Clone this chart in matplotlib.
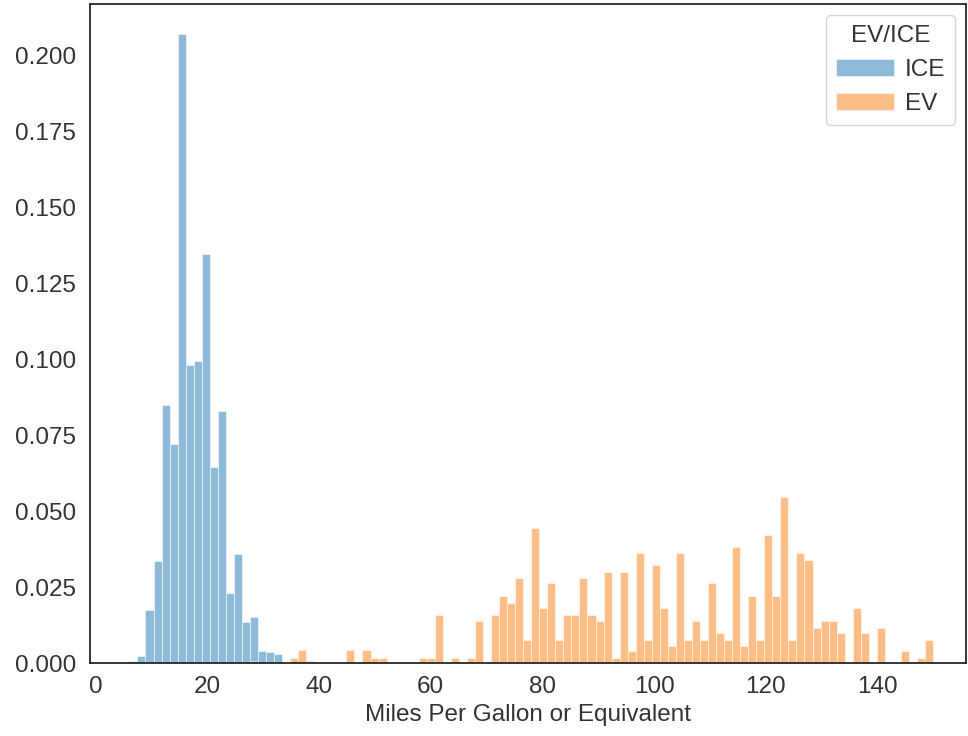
import numpy as np
import matplotlib
matplotlib.use("Agg")
import matplotlib.pyplot as plt
import seaborn as sns

# binning shared by both groups (common bins)
bin_lo = 6
bin_hi = 150
n_bins = 100

# probability per bin
ice = [0.0006, 0.0023, 0.0176, 0.0335, 0.0848, 0.0719, 0.2068, 0.0980, 0.0995, 0.1347,
       0.0646, 0.0829, 0.0229, 0.0359, 0.0135, 0.0152, 0.0040, 0.0036, 0.0031, 0.0,
       0.0007, 0.0007, 0.0006]

ev = [0, 0, 0, 0, 0, 0, 0, 0, 0, 0,
      0, 0, 0, 0, 0, 0.0005, 0, 0, 0, 0,
      0.0018, 0.0043, 0, 0, 0, 0, 0, 0.0043, 0, 0.0043,
      0.0018, 0.0018, 0, 0, 0, 0, 0.0018, 0.0018, 0.0158, 0,
      0.0018, 0, 0.0017, 0.0139, 0, 0.0157, 0.0221, 0.0197, 0.0280, 0.0075,
      0.0444, 0.0181, 0.0262, 0.0075, 0.0157, 0.0157, 0.0280, 0.0157, 0.0139, 0.0298,
      0.0017, 0.0298, 0.0038, 0.0362, 0.0075, 0.0321, 0.0181, 0.0057, 0.0362, 0.0075,
      0.0139, 0.0075, 0.0262, 0.0098, 0.0075, 0.0380, 0.0057, 0.0221, 0.0075, 0.0421,
      0.0221, 0.0545, 0.0075, 0.0362, 0.0339, 0.0116, 0.0139, 0.0139, 0.0098, 0,
      0.0181, 0.0098, 0, 0.0116, 0, 0, 0.0038, 0, 0.0017, 0.0075]

groups = ["ICE", "EV"]
colors = ["#1f77b4", "#ff7f0e"]

sns.set_style("white")
plt.rcParams["font.family"] = ["Liberation Sans", "DejaVu Sans"]

edges = np.linspace(bin_lo, bin_hi, n_bins + 1)
w = edges[1] - edges[0]

fig = plt.figure(figsize=(9.68, 7.36), dpi=100)
ax = fig.add_axes([89.5 / 968, 73 / 736, (966 - 89.5) / 968, (732 - 73) / 736])

for name, vals, c in zip(groups, [ice, ev], colors):
    ax.bar(edges[:len(vals)], vals, width=w, align="edge", color=c, alpha=0.5,
           edgecolor="white", linewidth=0.8, label=name)

fs = 17.5
ax.set_xlim(-1.15, 155.9)
ax.set_ylim(0, 0.2168)
ax.set_xticks([0, 20, 40, 60, 80, 100, 120, 140])
ax.set_yticks(np.arange(0, 0.201, 0.025))
ax.yaxis.set_major_formatter(matplotlib.ticker.FormatStrFormatter("%.3f"))
ax.tick_params(labelsize=fs, colors="#333333", pad=6)
ax.set_xlabel("Miles Per Gallon or Equivalent", fontsize=fs, color="#333333", labelpad=4)
for s in ax.spines.values():
    s.set_color("#262626")
    s.set_linewidth(1.3)

leg = ax.legend(title="EV/ICE", loc="upper right", fontsize=fs, title_fontsize=fs,
                frameon=True, handlelength=2.4, handletextpad=0.45, borderaxespad=0.45)
leg.get_frame().set_edgecolor("#cccccc")
plt.setp(leg.get_texts(), color="#333333")
leg.get_title().set_color("#333333")

fig.savefig("out.png", dpi=100)
